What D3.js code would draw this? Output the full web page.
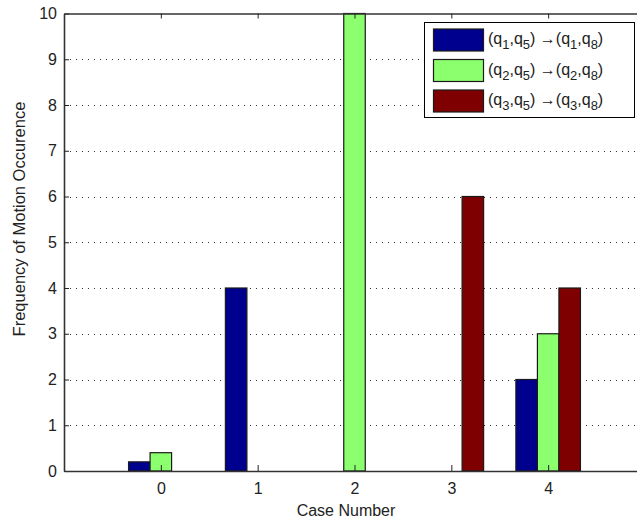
<!DOCTYPE html>
<html>
<head>
<meta charset="utf-8">
<script src="https://cdn.jsdelivr.net/npm/d3@7"></script>
<style>
  html, body { margin: 0; padding: 0; background: #fff; }
  svg text { font-family: "Liberation Sans", Arial, Helvetica, sans-serif; fill: #222; }
</style>
</head>
<body>
<svg id="chart" width="637" height="523"></svg>
<script>
// Case numbers on the x axis
const categories = [0, 1, 2, 3, 4];
// Motion occurrence counts per transition
const seriesA = [0.2, 4, 0, 0, 2];   // (q1,q5) -> (q1,q8)
const seriesB = [0.4, 0, 10, 0, 3];  // (q2,q5) -> (q2,q8)
const seriesC = [0, 0, 0, 6, 4];     // (q3,q5) -> (q3,q8)
const seriesColors = ["#00008f", "#8cff6e", "#7f0000"];
// Legend labels: index a in (q_a,q5) -> (q_a,q8)
const legendIndex = ["1", "2", "3"];
const yTicks = [0, 1, 2, 3, 4, 5, 6, 7, 8, 9, 10];
const xLabel = "Case Number";
const yLabel = "Frequency of Motion Occurence";

const series = [seriesA, seriesB, seriesC];
const svg = d3.select("#chart");

const x = d3.scaleLinear().domain([-1, 5]).range([64, 645]);
const y = d3.scaleLinear().domain([0, 10]).range([471, 13.5]);
const barW = 2 / 9; // grouped bar width in data units (3 series)

// dotted grid
svg.append("g").selectAll("line")
  .data(yTicks.filter(t => t > 0 && t < 10))
  .join("line")
  .attr("x1", x(-1)).attr("x2", x(5))
  .attr("y1", d => Math.round(y(d)) + 0.5).attr("y2", d => Math.round(y(d)) + 0.5)
  .attr("stroke", "#333").attr("stroke-width", 1)
  .attr("stroke-dasharray", "1,5");

// bars
const bars = [];
series.forEach((s, si) => {
  s.forEach((v, ci) => {
    if (v > 0) bars.push({ si, c: categories[ci], v });
  });
});
svg.append("g").selectAll("rect")
  .data(bars)
  .join("rect")
  .attr("x", d => x(d.c + (d.si - 1) * barW - barW / 2))
  .attr("width", d => x(barW) - x(0))
  .attr("y", d => y(d.v))
  .attr("height", d => y(0) - y(d.v))
  .attr("fill", d => seriesColors[d.si])
  .attr("stroke", "#1a1a1a").attr("stroke-width", 1.2);

// axes
const yAxis = d3.axisLeft(y).tickValues(yTicks).tickFormat(d3.format("d"))
  .tickSizeInner(-5).tickSizeOuter(0).tickPadding(7);
const gy = svg.append("g").attr("transform", `translate(${x(-1)},0)`).call(yAxis);
const xAxis = d3.axisBottom(x).tickValues(categories).tickFormat(d3.format("d"))
  .tickSizeInner(-6).tickSizeOuter(0).tickPadding(12);
const gx = svg.append("g").attr("transform", `translate(0,${y(0)})`).call(xAxis);
const xTop = d3.axisTop(x).tickValues(categories).tickSizeInner(-5).tickSizeOuter(0).tickFormat("");
const gt = svg.append("g").attr("transform", `translate(0,${y(10)})`).call(xTop);

[gy, gx, gt].forEach(g => {
  g.select(".domain").attr("stroke", "#333").attr("stroke-width", 1.6);
  g.selectAll(".tick line").attr("stroke", "#222").attr("stroke-width", 1);
  g.selectAll("text").attr("font-size", 16).attr("fill", "#222")
    .attr("font-family", '"Liberation Sans", Arial, sans-serif');
});

// axis titles
svg.append("text")
  .attr("x", 346).attr("y", 516)
  .attr("text-anchor", "middle").attr("font-size", 16)
  .text(xLabel);
svg.append("text")
  .attr("transform", "translate(25,219) rotate(-90)")
  .attr("text-anchor", "middle").attr("font-size", 16.5)
  .text(yLabel);

// legend
const lg = svg.append("g");
lg.append("rect")
  .attr("x", 424.5).attr("y", 22.5).attr("width", 210).attr("height", 95)
  .attr("fill", "#fff").attr("stroke", "#000").attr("stroke-width", 1);
legendIndex.forEach((k, i) => {
  const ty = 29 + i * 30.5;
  lg.append("rect")
    .attr("x", 433.5).attr("y", ty).attr("width", 50).attr("height", 22)
    .attr("fill", seriesColors[i]).attr("stroke", "#1a1a1a").attr("stroke-width", 1.2);
  const t = lg.append("text").attr("x", 488).attr("y", ty + 15).attr("font-size", 16);
  const parts = [["(q", 0], [k, 1], [",q", 0], ["5", 1], [") \u2192(q", 0], [k, 1], [",q", 0], ["8", 1], [")", 0]];
  parts.forEach(([s, sub]) => {
    t.append("tspan")
      .attr("dy", sub ? 5 : (s === "(q" ? 0 : -5))
      .attr("font-size", sub ? 13 : 16)
      .text(s);
  });
});
</script>
</body>
</html>
